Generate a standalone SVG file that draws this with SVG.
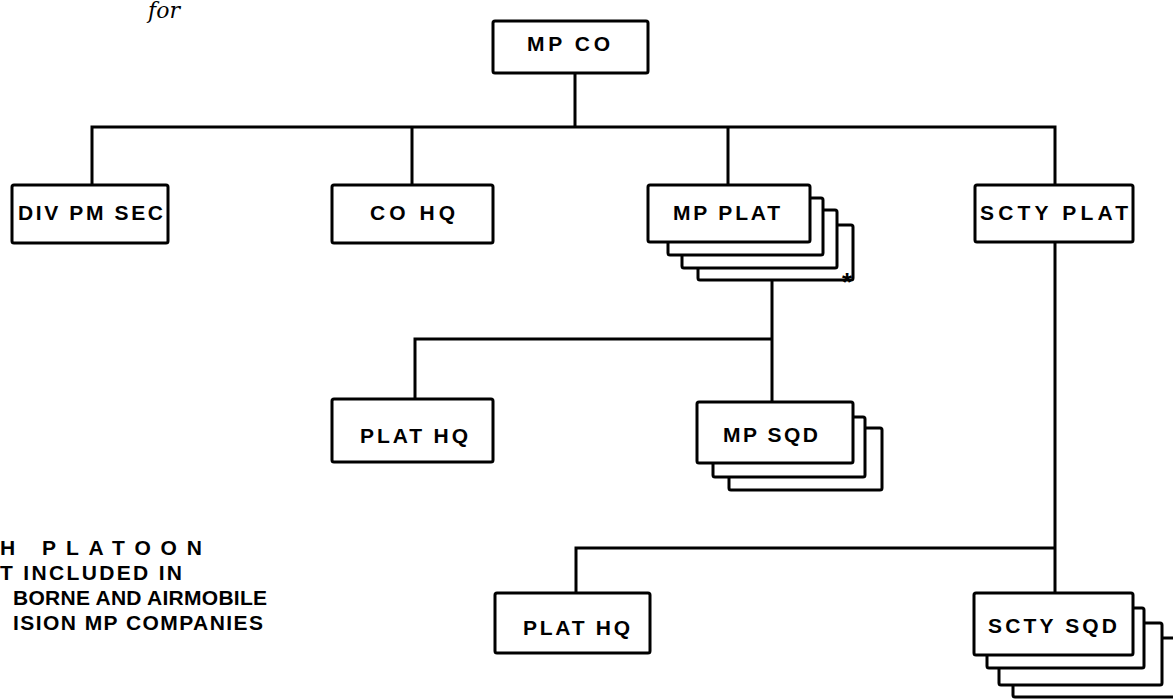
<svg xmlns="http://www.w3.org/2000/svg" width="1173" height="700" viewBox="0 0 1173 700">
<style>
.box{fill:#fff;stroke:#000;stroke-width:3;stroke-linejoin:round}
.ln{fill:none;stroke:#000;stroke-width:3;stroke-linecap:square}
.t{font-family:"Liberation Sans",Arial,sans-serif;font-weight:bold;font-size:21px;fill:#000}
.ast{font-family:"Liberation Sans",Arial,sans-serif;font-weight:bold;font-size:26px;fill:#000}
.hw{font-family:"DejaVu Serif",serif;font-style:italic;font-size:22px;fill:#000}
</style>
<rect width="1173" height="700" fill="#fff"/>
<text class="hw" x="148" y="18">for</text>
<g id="connectors">
<path class="ln" d="M575 73V127M92 127H1055M92 127V185M412 127V185M728 127V185M1055 127V185"/>
<path class="ln" d="M772 280V402M415 339H772M415 339V399"/>
<path class="ln" d="M1055 242V593M576 548H1055M576 548V593"/>
</g>
<g id="mp-co">
<rect class="box" x="493" y="21" width="155" height="52" rx="2"/>
<text class="t" x="527" y="51" textLength="83" lengthAdjust="spacing">MP CO</text>
</g>
<g id="div-pm-sec">
<rect class="box" x="12" y="185" width="156" height="58" rx="2"/>
<text class="t" x="18" y="220" textLength="145" lengthAdjust="spacing">DIV PM SEC</text>
</g>
<g id="co-hq">
<rect class="box" x="332" y="185" width="161" height="58" rx="2"/>
<text class="t" x="370" y="220" textLength="85" lengthAdjust="spacing">CO HQ</text>
</g>
<g id="mp-plat">
<rect class="box" x="698" y="225" width="155" height="55" rx="2"/>
<rect class="box" x="682" y="210" width="155" height="58" rx="2"/>
<rect class="box" x="668" y="198" width="155" height="57" rx="2"/>
<rect class="box" x="648" y="185" width="162" height="57" rx="2"/>
<text class="t" x="673" y="220" textLength="107" lengthAdjust="spacing">MP PLAT</text>
<text class="ast" x="842" y="291">*</text>
</g>
<g id="scty-plat">
<rect class="box" x="975" y="185" width="158" height="57" rx="2"/>
<text class="t" x="980" y="220" textLength="148" lengthAdjust="spacing">SCTY PLAT</text>
</g>
<g id="plat-hq-1">
<rect class="box" x="332" y="399" width="161" height="63" rx="2"/>
<text class="t" x="360" y="443" textLength="108" lengthAdjust="spacing">PLAT HQ</text>
</g>
<g id="mp-sqd">
<rect class="box" x="729" y="428" width="153" height="62" rx="2"/>
<rect class="box" x="713" y="417" width="152" height="60" rx="2"/>
<rect class="box" x="697" y="402" width="156" height="61" rx="2"/>
<text class="t" x="723" y="442" textLength="95" lengthAdjust="spacing">MP SQD</text>
</g>
<g id="plat-hq-2">
<rect class="box" x="495" y="593" width="155" height="60" rx="2"/>
<text class="t" x="523" y="635" textLength="107" lengthAdjust="spacing">PLAT HQ</text>
</g>
<g id="scty-sqd">
<rect class="box" x="1013" y="638" width="180" height="59" rx="2"/>
<rect class="box" x="999" y="623" width="163" height="62" rx="2"/>
<rect class="box" x="987" y="608" width="157" height="60" rx="2"/>
<rect class="box" x="974" y="593" width="159" height="62" rx="2"/>
<text class="t" x="988" y="633" textLength="129" lengthAdjust="spacing">SCTY SQD</text>
</g>
<g id="note">
<text class="t" x="0" y="555">H <tspan x="42" textLength="160" lengthAdjust="spacing">PLATOON</tspan></text>
<text class="t" x="0" y="580" textLength="182" lengthAdjust="spacing">T INCLUDED IN</text>
<text class="t" x="13" y="605" textLength="254" lengthAdjust="spacing">BORNE AND AIRMOBILE</text>
<text class="t" x="13" y="630" textLength="250" lengthAdjust="spacing">ISION MP COMPANIES</text>
</g>
</svg>
